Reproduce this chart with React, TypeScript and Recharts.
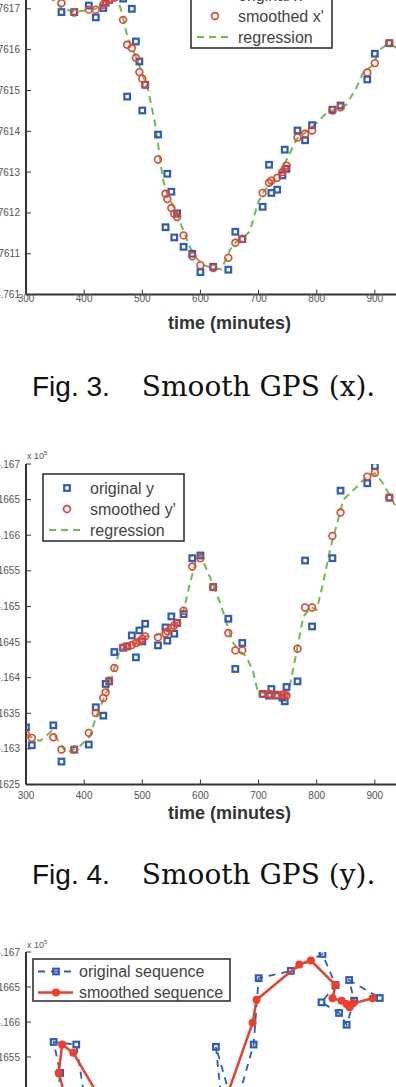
import { ComposedChart, Scatter, Line, XAxis, YAxis, Legend } from "recharts"

const BLUE = "#2d5db5"
const RED = "#f03e2b"
const GREEN = "#6cc04a"
const AXIS = "#333"
const FONT = "'Liberation Sans', Arial, sans-serif"
const SERIF = "'DejaVu Serif', serif"

// sample times in minutes
const times = [300, 310, 347, 361, 383, 408, 420, 433, 437, 443, 452, 467, 474, 482, 489, 495, 500, 505, 527, 540, 543, 550, 555, 560, 571, 586, 600, 622, 648, 660, 672, 707, 718, 722, 732, 741, 745, 748, 767, 780, 792, 827, 841, 887, 900, 925, 948, 958, 968, 978, 988, 998]

// GPS x, raw and smoothed
const xOriginal = [4.761745, 4.761742, 4.761735, 4.761692, 4.761692, 4.761708, 4.761679, 4.761702, 4.761715, 4.761722, 4.76173, 4.761725, 4.761485, 4.7617, 4.76162, 4.761571, 4.761451, 4.761514, 4.761392, 4.761165, 4.761296, 4.761252, 4.76114, 4.761199, 4.761117, 4.7611, 4.761055, 4.761068, 4.761061, 4.761154, 4.761136, 4.761215, 4.761318, 4.761249, 4.761257, 4.761292, 4.761355, 4.761308, 4.761402, 4.761378, 4.761415, 4.761453, 4.761463, 4.761527, 4.76159, 4.761616, 4.761588, 4.761623, 4.761638, 4.761653, 4.761643, 4.761704]
const xSmoothed = [4.76174, 4.761738, 4.76173, 4.761714, 4.761691, 4.761698, 4.761698, 4.76171, 4.761716, 4.761722, 4.761727, 4.761673, 4.761612, 4.761604, 4.76158, 4.761545, 4.761529, 4.761514, 4.761331, 4.761247, 4.761234, 4.761212, 4.761198, 4.76119, 4.761145, 4.761094, 4.761072, 4.761065, 4.76109, 4.761127, 4.761137, 4.761249, 4.761274, 4.761279, 4.761286, 4.7613, 4.761308, 4.761316, 4.761385, 4.761394, 4.761402, 4.761451, 4.761459, 4.761544, 4.761567, 4.761616, 4.76161, 4.761628, 4.761638, 4.761644, 4.761651, 4.76169]

// GPS y, raw and smoothed
const yOriginal = [4.163303, 4.163051, 4.163331, 4.162822, 4.16299, 4.163061, 4.163584, 4.163467, 4.163912, 4.163948, 4.16436, 4.16442, 4.16444, 4.164593, 4.164285, 4.164663, 4.164509, 4.164757, 4.164453, 4.164705, 4.164519, 4.16486, 4.164617, 4.16477, 4.164893, 4.165678, 4.165715, 4.165272, 4.164827, 4.164122, 4.164487, 4.163771, 4.163748, 4.163841, 4.163748, 4.16372, 4.163668, 4.163869, 4.163948, 4.165645, 4.164719, 4.165678, 4.166626, 4.16673, 4.166972, 4.166528, 4.166281, 4.166129, 4.165961, 4.166304, 4.1666, 4.166343]
const ySmoothed = [4.1632, 4.163155, 4.163163, 4.16299, 4.16299, 4.163225, 4.163505, 4.163715, 4.163794, 4.163958, 4.164136, 4.164425, 4.16444, 4.164459, 4.164487, 4.164509, 4.164547, 4.16458, 4.164566, 4.16462, 4.16465, 4.164697, 4.164733, 4.164767, 4.16494, 4.165561, 4.165678, 4.165272, 4.164627, 4.164383, 4.164383, 4.163771, 4.163771, 4.16376, 4.16376, 4.16376, 4.16376, 4.163748, 4.164407, 4.164986, 4.164986, 4.165991, 4.166318, 4.166823, 4.166878, 4.166528, 4.16634, 4.166304, 4.166257, 4.16621, 4.166267, 4.16634]

// regression curves
const regXTimes = [300, 330, 350, 360, 383, 408, 425, 440, 452, 458, 464, 473, 482, 490, 500, 510, 516, 522, 530, 535, 542, 560, 570, 582, 593, 605, 622, 636, 651, 662, 672, 685, 699, 710, 737, 754, 765, 794, 817, 851, 868, 880, 897, 908, 925, 936, 950, 970, 1000]
const regXValues = [4.76175, 4.76174, 4.76172, 4.761702, 4.761693, 4.761697, 4.761702, 4.761712, 4.761726, 4.761722, 4.761695, 4.76164, 4.761605, 4.76158, 4.76154, 4.761502, 4.76146, 4.76142, 4.76134, 4.761285, 4.76125, 4.761195, 4.76116, 4.761115, 4.76109, 4.761072, 4.761065, 4.761062, 4.76111, 4.76113, 4.761137, 4.761155, 4.761225, 4.761255, 4.761298, 4.761347, 4.76138, 4.761412, 4.761445, 4.761465, 4.761506, 4.761543, 4.761563, 4.7616, 4.761616, 4.761605, 4.76161, 4.761638, 4.76169]
const regYTimes = [300, 324, 344, 370, 393, 410, 421, 433, 445, 456, 462, 490, 505, 525, 542, 565, 573, 582, 593, 600, 616, 625, 634, 645, 656, 668, 679, 691, 699, 751, 757, 765, 777, 791, 800, 811, 823, 846, 869, 888, 900, 914, 936, 950, 1000]
const regYValues = [4.1632, 4.16311, 4.16325, 4.16294, 4.16304, 4.16318, 4.16346, 4.16369, 4.16393, 4.16425, 4.16439, 4.16449, 4.16458, 4.1646, 4.16465, 4.16481, 4.165, 4.16533, 4.16566, 4.16572, 4.16542, 4.16523, 4.16505, 4.16477, 4.16449, 4.16437, 4.1643, 4.16407, 4.16379, 4.16377, 4.16402, 4.16435, 4.16486, 4.16499, 4.16495, 4.16533, 4.1658, 4.1665, 4.16668, 4.16684, 4.16687, 4.16673, 4.1664, 4.16628, 4.16636]

const timeTicks = [300, 400, 500, 600, 700, 800, 900, 1000]
const xTicks = [4.761, 4.7611, 4.7612, 4.7613, 4.7614, 4.7615, 4.7616, 4.7617, 4.7618]
const yTicks = [4.1625, 4.163, 4.1635, 4.164, 4.1645, 4.165, 4.1655, 4.166, 4.1665, 4.167]

const fmt = (v: number) => String(parseFloat(v.toFixed(4)))

const PLOT_LEFT = 26

function Square(props: any) {
  const { cx, cy } = props
  if (cx == null || cy == null) return <g />
  return <rect x={cx - 2.8} y={cy - 2.8} width={5.6} height={5.6} fill="none" stroke={BLUE} strokeWidth={2.2} />
}

function Ring(props: any) {
  const { cx, cy } = props
  if (cx == null || cy == null) return <g />
  return <circle cx={cx} cy={cy} r={3.4} fill="none" stroke={RED} strokeWidth={1.6} />
}

function Dot(props: any) {
  const { cx, cy } = props
  if (cx == null || cy == null) return <g />
  return <circle cx={cx} cy={cy} r={4} fill={RED} />
}

type Item = { label: string; kind: "square" | "ring" | "dash" | "blueLine" | "redLine" }

function LegendBox({ items, width, height, rowTop, markX, textX, lineFrom, lineTo }: {
  items: Item[]; width: number; height: number; rowTop: number; markX: number; textX: number; lineFrom: number; lineTo: number
}) {
  return (
    <svg width={width} height={height} style={{ display: "block", overflow: "visible" }}>
      <rect x={1} y={1} width={width - 2} height={height - 2} fill="#fff" stroke={AXIS} strokeWidth={1.6} />
      {items.map((it, i) => {
        const y = rowTop + i * 21
        return (
          <g key={it.label}>
            {it.kind === "square" && <Square cx={markX} cy={y} />}
            {it.kind === "ring" && <Ring cx={markX} cy={y} />}
            {it.kind === "dash" && (
              <line x1={lineFrom} x2={lineTo} y1={y} y2={y} stroke={GREEN} strokeWidth={2} strokeDasharray="7 5" />
            )}
            {it.kind === "blueLine" && (
              <>
                <line x1={lineFrom} x2={lineTo} y1={y} y2={y} stroke={BLUE} strokeWidth={1.8} strokeDasharray="7 6" />
                <Square cx={markX} cy={y} />
              </>
            )}
            {it.kind === "redLine" && (
              <>
                <line x1={lineFrom} x2={lineTo} y1={y} y2={y} stroke={RED} strokeWidth={2.5} />
                <Dot cx={markX} cy={y} />
              </>
            )}
            <text x={textX} y={y + 5.5} fontSize={16} fill="#444" fontFamily={FONT}>{it.label}</text>
          </g>
        )
      })}
    </svg>
  )
}

type TimeChartProps = {
  top: number
  plotHeight: number
  domain: [number, number]
  ticks: number[]
  original: number[]
  smoothed: number[]
  regTimes: number[]
  regValues: number[]
  labels: string[]
  tickGap: number
  legendLeft: number
  legendTop: number
}

function TimeChart(p: TimeChartProps) {
  const orig = times.map((t, i) => ({ t, v: p.original[i] }))
  const smooth = times.map((t, i) => ({ t, v: p.smoothed[i] }))
  const reg = p.regTimes.map((t, i) => ({ t, v: p.regValues[i] }))
  const plotWidth = 407
  const items: Item[] = [
    { label: p.labels[0], kind: "square" },
    { label: p.labels[1], kind: "ring" },
    { label: "regression", kind: "dash" },
  ]
  return (
    <div style={{ position: "absolute", left: PLOT_LEFT - 50, top: p.top - 20 }}>
      <ComposedChart
        width={50 + plotWidth + 10}
        height={20 + p.plotHeight + 60}
        margin={{ top: 20, right: 10, bottom: 10, left: 10 }}
      >
        <XAxis
          type="number"
          dataKey="t"
          domain={[300, 1000]}
          ticks={timeTicks}
          allowDataOverflow
          height={50}
          tickSize={-5}
          tickMargin={p.tickGap}
          axisLine={{ stroke: AXIS, strokeWidth: 2 }}
          tickLine={{ stroke: AXIS }}
          tick={{ fill: "#555", fontSize: 10, fontFamily: FONT }}
          label={{ value: "time (minutes)", position: "insideBottom", offset: 16, fill: "#333", fontSize: 18, fontWeight: "bold", fontFamily: FONT }}
        />
        <XAxis
          xAxisId="top"
          orientation="top"
          type="number"
          domain={[300, 1000]}
          ticks={timeTicks}
          allowDataOverflow
          height={0}
          tick={false}
          tickSize={-5}
          axisLine={{ stroke: AXIS, strokeWidth: 2 }}
          tickLine={{ stroke: AXIS }}
        />
        <YAxis
          type="number"
          dataKey="v"
          domain={p.domain}
          ticks={p.ticks}
          tickFormatter={fmt}
          allowDataOverflow
          width={40}
          tickSize={-5}
          tickMargin={11}
          axisLine={{ stroke: AXIS, strokeWidth: 2 }}
          tickLine={{ stroke: AXIS }}
          tick={{ fill: "#555", fontSize: 10, fontFamily: FONT }}
        />
        <Legend
          layout="horizontal"
          align="center"
          verticalAlign="middle"
          wrapperStyle={{ left: p.legendLeft, top: p.legendTop, width: 143, height: 69 }}
          content={() => (
            <LegendBox items={items} width={143} height={69} rowTop={15} markX={25} textX={48} lineFrom={7} lineTo={42} />
          )}
        />
        <Scatter data={orig} dataKey="v" shape={Square} isAnimationActive={false} />
        <Scatter data={smooth} dataKey="v" shape={Ring} isAnimationActive={false} />
        <Line
          data={reg}
          dataKey="v"
          type="linear"
          stroke={GREEN}
          strokeWidth={2}
          strokeDasharray="7 5"
          dot={false}
          activeDot={false}
          isAnimationActive={false}
        />
      </ComposedChart>
    </div>
  )
}

function TrajectoryChart({ top }: { top: number }) {
  const orig = times.map((_, i) => ({ x: xOriginal[i], y: yOriginal[i] }))
  const smooth = times.map((_, i) => ({ x: xSmoothed[i], y: ySmoothed[i] }))
  const plotWidth = 402
  const plotHeight = 315
  const items: Item[] = [
    { label: "original sequence", kind: "blueLine" },
    { label: "smoothed sequence", kind: "redLine" },
  ]
  return (
    <div style={{ position: "absolute", left: PLOT_LEFT - 50, top: top - 20 }}>
      <ComposedChart
        width={50 + plotWidth + 10}
        height={20 + plotHeight + 40}
        margin={{ top: 20, right: 10, bottom: 10, left: 10 }}
      >
        <XAxis
          type="number"
          dataKey="x"
          domain={[4.761, 4.7618]}
          ticks={xTicks}
          tickFormatter={fmt}
          allowDataOverflow
          height={30}
          tickSize={-5}
          tickMargin={10}
          axisLine={{ stroke: AXIS, strokeWidth: 2 }}
          tickLine={{ stroke: AXIS }}
          tick={{ fill: "#555", fontSize: 10, fontFamily: FONT }}
        />
        <XAxis
          xAxisId="top"
          orientation="top"
          type="number"
          domain={[4.761, 4.7618]}
          ticks={xTicks}
          allowDataOverflow
          height={0}
          tick={false}
          tickSize={-5}
          axisLine={{ stroke: AXIS, strokeWidth: 2 }}
          tickLine={{ stroke: AXIS }}
        />
        <YAxis
          type="number"
          dataKey="y"
          domain={[4.1625, 4.167]}
          ticks={yTicks}
          tickFormatter={fmt}
          allowDataOverflow
          width={40}
          tickSize={-5}
          tickMargin={11}
          axisLine={{ stroke: AXIS, strokeWidth: 2 }}
          tickLine={{ stroke: AXIS }}
          tick={{ fill: "#555", fontSize: 10, fontFamily: FONT }}
        />
        <Legend
          layout="horizontal"
          align="center"
          verticalAlign="middle"
          wrapperStyle={{ left: 56, top: 26, width: 199, height: 44 }}
          content={() => (
            <LegendBox items={items} width={199} height={44} rowTop={13.5} markX={24} textX={47} lineFrom={6} lineTo={41} />
          )}
        />
        <Scatter
          data={orig}
          dataKey="y"
          shape={Square}
          line={{ stroke: BLUE, strokeWidth: 1.8, strokeDasharray: "7 6" }}
          lineType="joint"
          isAnimationActive={false}
        />
        <Scatter
          data={smooth}
          dataKey="y"
          shape={Dot}
          line={{ stroke: RED, strokeWidth: 2.5 }}
          lineType="joint"
          isAnimationActive={false}
        />
      </ComposedChart>
    </div>
  )
}

function Caption({ top, num, text }: { top: number; num: string; text: string }) {
  return (
    <div style={{ position: "absolute", left: 32, top, fontSize: 28, lineHeight: "28px", whiteSpace: "nowrap", color: "#111" }}>
      <span style={{ fontFamily: FONT }}>{num}</span>
      <span style={{ fontFamily: SERIF, marginLeft: 32 }}>{text}</span>
    </div>
  )
}

function Exponent({ top }: { top: number }) {
  return (
    <div style={{ position: "absolute", left: 27, top, fontSize: 9, lineHeight: "10px", color: "#555", fontFamily: FONT, whiteSpace: "nowrap" }}>
      x 10<sup style={{ fontSize: 6 }}>5</sup>
    </div>
  )
}

export default function App() {
  return (
    <div style={{ position: "absolute", left: 0, top: 0, width: 396, height: 1087, overflow: "hidden", background: "#fff" }}>
      <TimeChart
        top={-31.6}
        plotHeight={326.6}
        domain={[4.761, 4.7618]}
        ticks={xTicks}
        original={xOriginal}
        smoothed={xSmoothed}
        regTimes={regXTimes}
        regValues={regXValues}
        labels={["original x", "smoothed x'"]}
        tickGap={5.4}
        legendLeft={213.5}
        legendTop={31.6}
      />
      <Caption top={373} num="Fig. 3." text="Smooth GPS (x)." />
      <Exponent top={448} />
      <TimeChart
        top={464}
        plotHeight={320.5}
        domain={[4.1625, 4.167]}
        ticks={yTicks}
        original={yOriginal}
        smoothed={ySmoothed}
        regTimes={regYTimes}
        regValues={regYValues}
        labels={["original y", "smoothed y'"]}
        tickGap={12.4}
        legendLeft={65.7}
        legendTop={29.3}
      />
      <Caption top={861} num="Fig. 4." text="Smooth GPS (y)." />
      <Exponent top={937} />
      <TrajectoryChart top={952} />
    </div>
  )
}
